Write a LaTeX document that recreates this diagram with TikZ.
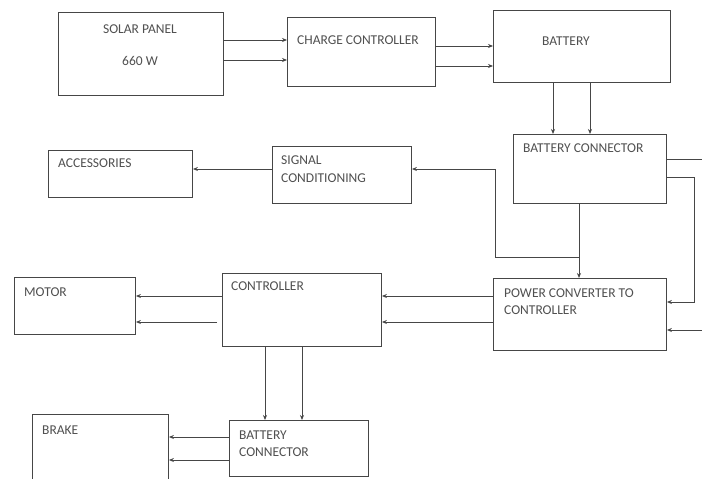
\documentclass[tikz,border=0pt]{standalone}
\usepackage{fontspec}
\setmainfont{Carlito}
\usetikzlibrary{arrows.meta}
\definecolor{ln}{RGB}{70,70,70}
\definecolor{tx}{RGB}{80,80,80}
\begin{document}
\begin{tikzpicture}[x=1pt,y=-1pt,
  box/.style={draw=ln,line width=0.9pt,anchor=north west,inner sep=0pt},
  lbl/.style={text=tx,font=\fontsize{13.5}{16}\selectfont,inner sep=0pt,anchor=west},
  arr/.style={draw=ln,line width=0.8pt,-{Stealth[length=5pt,width=4pt]}},
  wire/.style={draw=ln,line width=0.8pt}]
\useasboundingbox (0,0) rectangle (702,479);
\clip (0,0) rectangle (702,479);
\fill[white] (0,0) rectangle (702,479);
% boxes
\node[box,minimum width=165,minimum height=83] (sp) at (58,12) {};
\node[box,minimum width=148,minimum height=69] (cc) at (287,17) {};
\node[box,minimum width=177,minimum height=72] (bat) at (493,10) {};
\node[box,minimum width=153,minimum height=69] (bc) at (513,134) {};
\node[box,minimum width=139,minimum height=57] (sc) at (272,146) {};
\node[box,minimum width=144,minimum height=47] (acc) at (48,150) {};
\node[box,minimum width=121,minimum height=57] (mot) at (14,277) {};
\node[box,minimum width=159,minimum height=73] (ctl) at (222,273) {};
\node[box,minimum width=173,minimum height=72] (pc) at (493,278) {};
\node[box,minimum width=136,minimum height=80] (brk) at (32,414) {};
\node[box,minimum width=139,minimum height=56] (bc2) at (229,420) {};
% labels
\node[lbl,anchor=center] (t1) at (140,29) {SOLAR PANEL};
\node[lbl,anchor=center] (t2) at (140,61) {660 W};
\node[lbl] (t3) at (297,40) {CHARGE CONTROLLER};
\node[lbl,anchor=center] (t4) at (566,41) {BATTERY};
\node[lbl] (t5) at (523,148) {BATTERY CONNECTOR};
\node[lbl] (t6) at (281,160) {SIGNAL};
\node[lbl] (t7) at (281,178) {CONDITIONING};
\node[lbl] (t8) at (58,163) {ACCESSORIES};
\node[lbl] (t9) at (24,292) {MOTOR};
\node[lbl] (t10) at (231,286) {CONTROLLER};
\node[lbl] (t11) at (504,293) {POWER CONVERTER TO};
\node[lbl] (t12) at (504,310) {CONTROLLER};
\node[lbl] (t13) at (42,430) {BRAKE};
\node[lbl] (t14) at (239,435) {BATTERY};
\node[lbl] (t15) at (239,452) {CONNECTOR};
% coordinates for free ends / corners
\coordinate (r1) at (702,159);
\coordinate (r2) at (702,330);
\coordinate (k1) at (694,177);
\coordinate (k2) at (694,302);
\coordinate (j1) at (579,257);
\coordinate (j2) at (495,257);
\coordinate (j3) at (495,169);
\coordinate (m2) at (217,322);
% solar -> charge controller
\draw[arr] (sp.east |- 0,40) -- (cc.west |- 0,40);
\draw[arr] (sp.east |- 0,60) -- (cc.west |- 0,60);
% charge controller -> battery
\draw[arr] (cc.east |- 0,46) -- (bat.west |- 0,46);
\draw[arr] (cc.east |- 0,66) -- (bat.west |- 0,66);
% battery -> battery connector
\draw[arr] (bat.south -| 553,0) -- (bc.north -| 553,0);
\draw[arr] (bat.south -| 590,0) -- (bc.north -| 590,0);
% battery connector -> power converter
\draw[arr] (bc.south -| 579,0) -- (pc.north -| 579,0);
% branch to signal conditioning
\draw[arr] (j1) -- (j2) -- (j3) -- (sc.east |- j3);
% signal conditioning -> accessories
\draw[arr] (sc.west |- 0,169) -- (acc.east |- 0,169);
% battery connector right side
\draw[wire] (bc.east |- r1) -- (r1);
\draw[arr] (bc.east |- k1) -- (k1) -- (k2) -- (pc.east |- k2);
\draw[arr] (r2) -- (pc.east |- r2);
% power converter -> controller
\draw[arr] (pc.west |- 0,296) -- (ctl.east |- 0,296);
\draw[arr] (pc.west |- 0,322) -- (ctl.east |- 0,322);
% controller -> motor
\draw[arr] (ctl.west |- 0,296) -- (mot.east |- 0,296);
\draw[arr] (m2) -- (mot.east |- m2);
% controller -> battery connector 2
\draw[arr] (ctl.south -| 265,0) -- (bc2.north -| 265,0);
\draw[arr] (ctl.south -| 302,0) -- (bc2.north -| 302,0);
% battery connector 2 -> brake
\draw[arr] (bc2.west |- 0,437) -- (brk.east |- 0,437);
\draw[arr] (bc2.west |- 0,460) -- (brk.east |- 0,460);
\end{tikzpicture}
\end{document}
